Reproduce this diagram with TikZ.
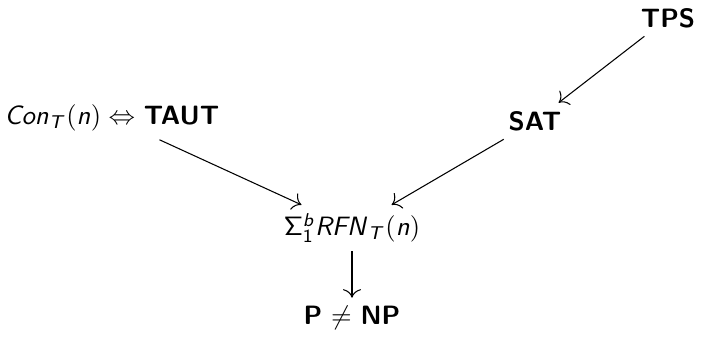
\documentclass[tikz,border=0pt]{standalone}
\usetikzlibrary{arrows.meta}
\DeclareMathAlphabet{\mathsl}{OT1}{cmss}{m}{sl}
\begin{document}
\begin{tikzpicture}[x=0.377pt,y=-0.377pt,
  lbl/.style={font=\sffamily, inner sep=3pt},
  arr/.style={-{To[scale=1.3]}, line width=0.4pt}]
\useasboundingbox (0,0) rectangle (701,345);
\node[lbl] (tps) at (668,18) {\textbf{TPS}};
\node[lbl] (sat) at (535,121) {\textbf{SAT}};
\node[lbl] (taut) at (112,118) {$\mathsl{Con}_{\mathsl{T}}\mathsf{(}\mathsl{n}\mathsf{)}\Leftrightarrow$ \textbf{TAUT}};
\node[lbl] (rfn) at (352,228) {$\mathsf{\Sigma}^{\mathsl{b}}_{\mathsf{1}}\mathsl{RFN}_{\mathsl{T}}\mathsf{(}\mathsl{n}\mathsf{)}$};
\node[lbl] (pnp) at (352,318) {\textbf{P} $\neq$ \textbf{NP}};
\draw[arr] (tps) -- (sat);
\draw[arr] (taut) -- (rfn);
\draw[arr] (sat) -- (rfn);
\draw[arr] (rfn) -- (pnp);
\end{tikzpicture}
\end{document}
